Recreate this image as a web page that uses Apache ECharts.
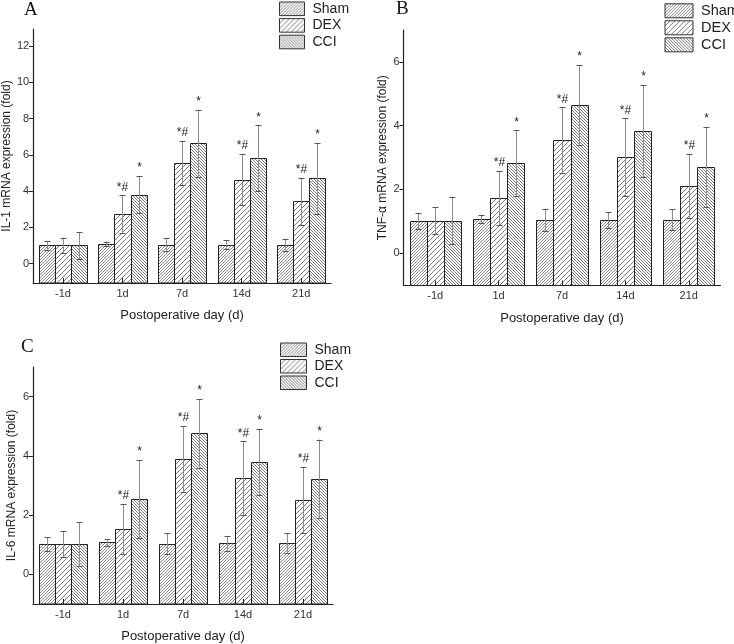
<!DOCTYPE html>
<html><head><meta charset="utf-8">
<script src="https://cdn.jsdelivr.net/npm/echarts@6/dist/echarts.min.js"></script>
<style>html,body{margin:0;padding:0;background:#fff}#c{width:734px;height:644px}</style>
</head><body><div id="c"></div>
<script>
// ---------- data ----------
const categories = ['-1d', '1d', '7d', '14d', '21d'];
const groups = ['Sham', 'DEX', 'CCI'];

const il1Sham    = [1.00, 1.07, 1.05, 1.05, 1.05];
const il1ShamErr = [0.25, 0.12, 0.35, 0.26, 0.33];
const il1Dex     = [1.00, 2.74, 5.54, 4.64, 3.44];
const il1DexErr  = [0.43, 1.03, 1.22, 1.42, 1.30];
const il1Cci     = [1.00, 3.81, 6.65, 5.82, 4.70];
const il1CciErr  = [0.75, 1.03, 1.85, 1.82, 1.95];

const tnfSham    = [1.00, 1.07, 1.04, 1.04, 1.05];
const tnfShamErr = [0.25, 0.12, 0.35, 0.25, 0.33];
const tnfDex     = [1.02, 1.73, 3.54, 3.01, 2.11];
const tnfDexErr  = [0.42, 0.85, 1.03, 1.22, 1.01];
const tnfCci     = [1.02, 2.82, 4.64, 3.83, 2.70];
const tnfCciErr  = [0.74, 1.03, 1.26, 1.44, 1.25];

const il6Sham    = [1.02, 1.08, 1.04, 1.05, 1.05];
const il6ShamErr = [0.24, 0.12, 0.34, 0.25, 0.33];
const il6Dex     = [1.02, 1.53, 3.89, 3.24, 2.51];
const il6DexErr  = [0.43, 0.85, 1.12, 1.25, 1.12];
const il6Cci     = [1.02, 2.54, 4.76, 3.80, 3.22];
const il6CciErr  = [0.74, 1.32, 1.16, 1.12, 1.33];

const marksSham = ['', '', '', '', ''];
const marksDex  = ['', '*#', '*#', '*#', '*#'];
const marksCci  = ['', '*', '*', '*', '*'];

const il1Ticks = [0, 2, 4, 6, 8, 10, 12];
const tnfTicks = [0, 2, 4, 6];
const il6Ticks = [0, 2, 4, 6];

const panelLetters = ['A', 'B', 'C'];
const yNames = ['IL-1 mRNA expression (fold)', 'TNF-\u03b1 mRNA expression (fold)', 'IL-6 mRNA expression (fold)'];
const xName = 'Postoperative day (d)';

// ---------- styling / layout ----------
const FONT = 'Liberation Sans, Arial, sans-serif';
const yMin = [-1.07, -1.02, -1.0];
const yMax = [12.95, 7.0, 7.0];
const grids = [
  {left: 33, top: 29, width: 298, height: 254},
  {left: 403.5, top: 30, width: 317, height: 255.5},
  {left: 33, top: 367, width: 300, height: 242.5}
];
const BAR_FRAC = 0.27;

function hatch(size, dir, color, lw) {
  const c = document.createElement('canvas');
  c.width = size; c.height = size;
  const x = c.getContext('2d');
  x.fillStyle = '#fff'; x.fillRect(0, 0, size, size);
  x.strokeStyle = color; x.lineWidth = lw;
  x.beginPath();
  if (dir > 0) {
    x.moveTo(0, size); x.lineTo(size, 0);
    x.moveTo(-size / 2, size / 2); x.lineTo(size / 2, -size / 2);
    x.moveTo(size / 2, size * 1.5); x.lineTo(size * 1.5, size / 2);
  } else {
    x.moveTo(0, 0); x.lineTo(size, size);
    x.moveTo(-size / 2, size / 2); x.lineTo(size / 2, size * 1.5);
    x.moveTo(size / 2, -size / 2); x.lineTo(size * 1.5, size / 2);
  }
  x.stroke();
  return {image: c, repeat: 'repeat'};
}
const patterns = [hatch(3, 1, '#8a8a8a', 1), hatch(5, 1, '#7a7a7a', 1), hatch(3, -1, '#7a7a7a', 1)];

function makeSeries(panel, gi, values, errs, marks) {
  return {
    type: 'custom',
    name: groups[gi],
    xAxisIndex: panel,
    yAxisIndex: panel,
    itemStyle: {color: patterns[gi], borderColor: '#222', borderWidth: 1},
    data: values.map((v, i) => [i, v, errs[i]]),
    encode: {x: 0, y: 1},
    z: 2,
    renderItem: function (params, api) {
      const i = api.value(0), v = api.value(1), e = api.value(2);
      const band = api.size([1, 0])[0];
      const bw = band * BAR_FRAC;
      const p = api.coord([i, v]);
      const base = api.coord([i, yMin[panel]])[1];
      const cx = p[0] + (gi - 1) * bw;
      const x0 = Math.round(cx - bw / 2) + 0.5;
      const x1 = Math.round(cx + bw / 2) + 0.5;
      const top = Math.round(p[1]) + 0.5;
      const eTop = api.coord([i, v + e])[1];
      const eBot = api.coord([i, v - e])[1];
      const ex = Math.round(cx) + 0.5;
      const children = [
        {type: 'rect', shape: {x: x0, y: top, width: x1 - x0, height: base - top},
         style: {fill: patterns[gi], stroke: '#222', lineWidth: 1}},
        {type: 'line', shape: {x1: ex, y1: eBot, x2: ex, y2: eTop}, style: {stroke: '#8c8c8c', lineWidth: 1}},
        {type: 'line', shape: {x1: ex - 3, y1: Math.round(eTop) + 0.5, x2: ex + 3, y2: Math.round(eTop) + 0.5}, style: {stroke: '#555', lineWidth: 1}},
        {type: 'line', shape: {x1: ex - 3, y1: Math.round(eBot) + 0.5, x2: ex + 3, y2: Math.round(eBot) + 0.5}, style: {stroke: '#555', lineWidth: 1}}
      ];
      if (marks[i]) {
        children.push({type: 'text', x: ex, y: eTop - 2,
          style: {text: marks[i], fill: '#222', font: '12px ' + FONT, textAlign: 'center', textVerticalAlign: 'bottom'}});
      }
      return {type: 'group', children: children};
    }
  };
}

const panelData = [
  [[il1Sham, il1ShamErr, marksSham], [il1Dex, il1DexErr, marksDex], [il1Cci, il1CciErr, marksCci]],
  [[tnfSham, tnfShamErr, marksSham], [tnfDex, tnfDexErr, marksDex], [tnfCci, tnfCciErr, marksCci]],
  [[il6Sham, il6ShamErr, marksSham], [il6Dex, il6DexErr, marksDex], [il6Cci, il6CciErr, marksCci]]
];
const tickSets = [il1Ticks, tnfTicks, il6Ticks];

const series = [];
panelData.forEach((pd, p) => pd.forEach((d, gi) => series.push(makeSeries(p, gi, d[0], d[1], d[2]))));

const xAxis = grids.map((g, p) => ({
  type: 'category', gridIndex: p, data: categories, boundaryGap: true, position: 'bottom',
  axisLine: {show: true, onZero: false, lineStyle: {color: '#222', width: 1.2}},
  axisTick: {show: true, inside: true, alignWithLabel: true, length: 5, lineStyle: {color: '#222'}},
  axisLabel: {fontSize: 11, color: '#333', margin: 5, fontFamily: FONT},
  splitLine: {show: false},
  name: xName, nameLocation: 'middle', nameGap: 26,
  nameTextStyle: {fontSize: 13, color: '#222', fontFamily: FONT},
  z: 5
}));

const yAxis = grids.map((g, p) => ({
  type: 'value', gridIndex: p, min: yMin[p], max: yMax[p],
  axisLine: {show: true, onZero: false, lineStyle: {color: '#222', width: 1.2}},
  axisTick: {show: true, inside: false, length: 4, customValues: tickSets[p], lineStyle: {color: '#222'}},
  axisLabel: {fontSize: 11, color: '#333', margin: 4, customValues: tickSets[p], fontFamily: FONT},
  splitLine: {show: false},
  name: yNames[p], nameLocation: 'middle', nameGap: 15,
  nameTextStyle: {fontSize: 12, color: '#222', fontFamily: FONT}
}));

const legendPos = [
  {left: 279, top: 1.5, w: 25, h: 13.6, fs: 14},
  {left: 664.5, top: 3.3, w: 28, h: 14, fs: 14.5},
  {left: 280, top: 342.5, w: 26, h: 13.5, fs: 14}
];
const legend = legendPos.map(l => ({
  orient: 'vertical', left: l.left, top: l.top, padding: 0,
  itemWidth: l.w, itemHeight: l.h, itemGap: 2, icon: 'rect', selectedMode: false,
  data: groups.map((g, i) => ({name: g, itemStyle: {color: patterns[i], borderColor: '#333', borderWidth: 1}})),
  textStyle: {fontSize: l.fs, color: '#222', fontFamily: FONT, padding: [0, 0, 0, 3]}
}));

const titlePos = [{left: 24, top: 1}, {left: 396, top: 0}, {left: 21, top: 338}];
const title = titlePos.map((t, p) => ({
  text: panelLetters[p], left: t.left, top: t.top, padding: 0,
  textStyle: {fontFamily: 'Liberation Serif, Times New Roman, serif', fontSize: 19, fontWeight: 'normal', color: '#111'}
}));

const chart = echarts.init(document.getElementById('c'), null, {renderer: 'canvas'});
chart.setOption({
  animation: false,
  backgroundColor: '#fff',
  textStyle: {fontFamily: FONT},
  title: title,
  legend: legend,
  grid: grids,
  xAxis: xAxis,
  yAxis: yAxis,
  series: series
});
</script></body></html>
